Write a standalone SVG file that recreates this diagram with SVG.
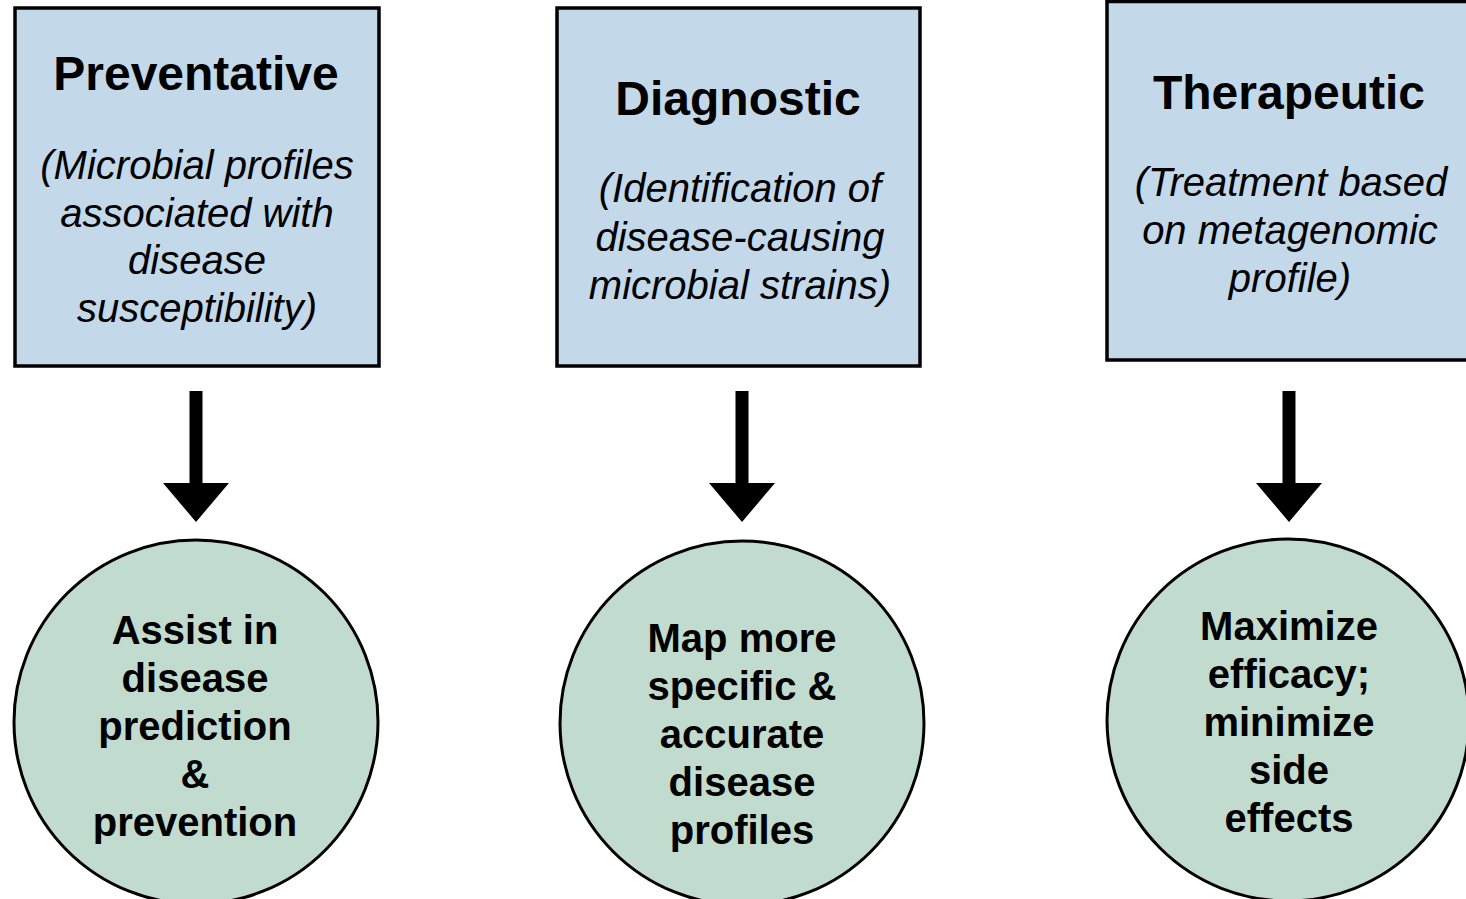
<svg xmlns="http://www.w3.org/2000/svg" width="1466" height="899" viewBox="0 0 1466 899">
<style>
.box{fill:#c3d8e9;stroke:#000;stroke-width:3.5}
.circ{fill:#c1dbce;stroke:#000;stroke-width:3}
.t{font-family:"Liberation Sans",Arial,sans-serif;font-weight:bold;font-size:48px;text-anchor:middle;fill:#000}
.s{font-family:"Liberation Sans",Arial,sans-serif;font-style:italic;font-size:40px;text-anchor:middle;fill:#000}
.c{font-family:"Liberation Sans",Arial,sans-serif;font-weight:bold;font-size:40px;text-anchor:middle;fill:#000}
.arr{fill:#000}
</style>
<rect width="1466" height="899" fill="#fff"/>
<g id="preventative">
<rect class="box" x="15" y="8" width="364" height="358"/>
<text class="t" x="196" y="90">Preventative</text>
<text class="s" x="197" y="179">(Microbial profiles</text>
<text class="s" x="197" y="227">associated with</text>
<text class="s" x="197" y="274">disease</text>
<text class="s" x="197" y="322">susceptibility)</text>
</g>
<g id="diagnostic">
<rect class="box" x="557" y="8" width="363" height="358"/>
<text class="t" x="738" y="115">Diagnostic</text>
<text class="s" x="740" y="202">(Identification of</text>
<text class="s" x="740" y="251">disease-causing</text>
<text class="s" x="740" y="299">microbial strains)</text>
</g>
<g id="therapeutic">
<rect class="box" x="1107" y="1.5" width="366" height="358.5"/>
<text class="t" x="1289" y="109">Therapeutic</text>
<text class="s" x="1291" y="196">(Treatment based</text>
<text class="s" x="1290" y="244">on metagenomic</text>
<text class="s" x="1290" y="292">profile)</text>
</g>
<g id="connectors">
<path class="arr" d="M189.5 391H202.5V483H229L196 522L163 483H189.5Z"/>
<path class="arr" d="M735.5 391H748.5V483H775L742 522L709 483H735.5Z"/>
<path class="arr" d="M1282.5 391H1295.5V483H1322L1289 522L1256 483H1282.5Z"/>
</g>
<g id="assist">
<circle class="circ" cx="196" cy="722" r="182"/>
<text class="c" x="195" y="644">Assist in</text>
<text class="c" x="195" y="692">disease</text>
<text class="c" x="195" y="740">prediction</text>
<text class="c" x="195" y="788">&amp;</text>
<text class="c" x="195" y="836">prevention</text>
</g>
<g id="map">
<circle class="circ" cx="742" cy="723" r="182"/>
<text class="c" x="742" y="652">Map more</text>
<text class="c" x="742" y="700">specific &amp;</text>
<text class="c" x="742" y="748">accurate</text>
<text class="c" x="742" y="796">disease</text>
<text class="c" x="742" y="844">profiles</text>
</g>
<g id="maximize">
<circle class="circ" cx="1288" cy="720" r="181"/>
<text class="c" x="1289" y="640">Maximize</text>
<text class="c" x="1289" y="688">efficacy;</text>
<text class="c" x="1289" y="736">minimize</text>
<text class="c" x="1289" y="784">side</text>
<text class="c" x="1289" y="832">effects</text>
</g>
</svg>
